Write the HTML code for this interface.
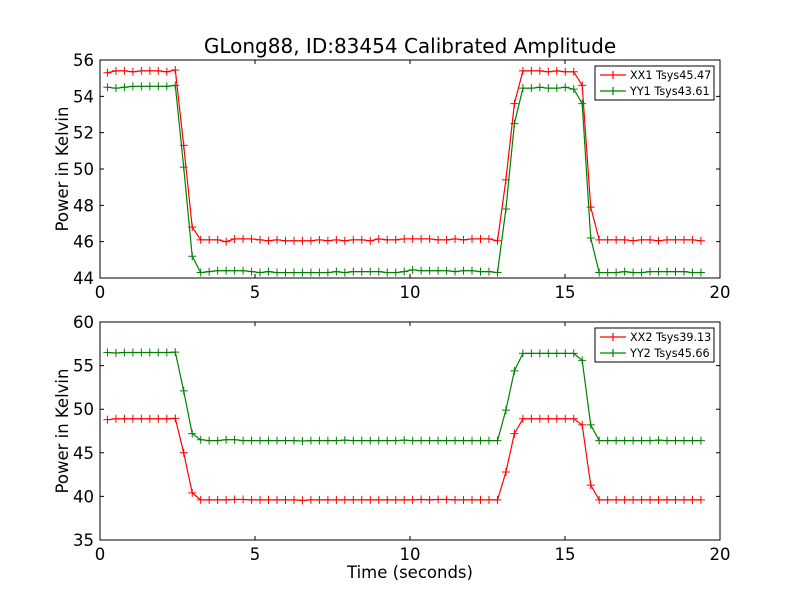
<!DOCTYPE html>
<html><head><meta charset="utf-8"><style>
body{margin:0;background:#fff;width:800px;height:600px;overflow:hidden}
svg text{font-family:"DejaVu Sans","Liberation Sans",sans-serif}
</style></head><body>
<svg id="chart" width="800" height="600" xmlns="http://www.w3.org/2000/svg">
<rect width="800" height="600" fill="#fff"/>
<text x="410" y="53" font-size="20" text-anchor="middle">GLong88, ID:83454 Calibrated Amplitude</text>
</svg>
<script>
const t0 = 0.24, dt = 0.2735, N = 71;
const xx1 = [55.3,55.4,55.4,55.35,55.4,55.4,55.4,55.35,55.45,51.3,46.8,
46.1,46.1,46.1,46.0,46.15,46.15,46.15,46.1,46.05,46.1,
46.05,46.05,46.05,46.05,46.1,46.05,46.1,46.05,46.1,46.1,
46.05,46.15,46.1,46.1,46.15,46.15,46.15,46.15,46.1,46.1,
46.15,46.1,46.15,46.15,46.15,46.05,
49.4,53.6,55.4,55.4,55.4,55.35,55.4,55.35,55.35,54.6,47.9,
46.1,46.1,46.1,46.1,46.05,46.1,46.1,46.05,46.1,46.1,46.1,46.1,46.05];
const yy1 = [54.5,54.45,54.5,54.55,54.55,54.55,54.55,54.55,54.6,50.1,45.2,
44.3,44.35,44.4,44.4,44.4,44.4,44.35,44.3,44.35,44.3,
44.3,44.3,44.3,44.3,44.3,44.3,44.35,44.3,44.35,44.35,
44.35,44.35,44.3,44.3,44.35,44.45,44.4,44.4,44.4,44.4,
44.35,44.4,44.4,44.35,44.35,44.3,
47.8,52.5,54.45,54.45,54.5,54.45,54.45,54.5,54.4,53.6,46.2,
44.3,44.3,44.3,44.35,44.3,44.3,44.35,44.35,44.35,44.35,44.35,44.3,44.3];
const xx2 = [48.8,48.9,48.9,48.9,48.9,48.9,48.9,48.9,48.95,45.0,40.4,
39.6,39.6,39.6,39.6,39.65,39.65,39.6,39.6,39.6,39.6,
39.6,39.6,39.55,39.6,39.6,39.6,39.6,39.6,39.6,39.6,
39.6,39.6,39.6,39.6,39.6,39.6,39.65,39.6,39.65,39.65,
39.6,39.6,39.6,39.6,39.6,39.6,
42.8,47.2,48.9,48.9,48.9,48.9,48.9,48.9,48.9,48.2,41.3,
39.6,39.6,39.6,39.6,39.6,39.6,39.6,39.6,39.6,39.6,39.6,39.6,39.6];
const yy2 = [56.5,56.45,56.5,56.5,56.5,56.5,56.5,56.5,56.55,52.1,47.2,
46.5,46.4,46.4,46.5,46.5,46.4,46.4,46.4,46.4,46.4,
46.4,46.4,46.35,46.4,46.4,46.4,46.4,46.45,46.4,46.4,
46.4,46.4,46.4,46.4,46.45,46.4,46.4,46.4,46.4,46.4,
46.4,46.4,46.4,46.4,46.4,46.4,
49.9,54.4,56.4,56.4,56.4,56.4,56.4,56.4,56.4,55.6,48.2,
46.4,46.4,46.4,46.4,46.4,46.4,46.4,46.45,46.4,46.4,46.4,46.4,46.4];
const xTicks = [0,5,10,15,20];
const yTicksTop = [44,46,48,50,52,54,56];
const yTicksBot = [35,40,45,50,55,60];
const legendTop = ["XX1 Tsys45.47","YY1 Tsys43.61"];
const legendBot = ["XX2 Tsys39.13","YY2 Tsys45.66"];

const NS = "http://www.w3.org/2000/svg";
const svg = document.getElementById('chart');
function mk(tag, attrs, parent){const e=document.createElementNS(NS,tag);for(const k in attrs)e.setAttribute(k,attrs[k]);(parent||svg).appendChild(e);return e;}

function panel(name, top, bottom, ymin, ymax, yTicks, series, legend, xlabel){
  const L=100,R=720;
  const g = mk('g',{});
  
  
  const sx = v => L + (v-0)/(20-0)*(R-L);
  const sy = v => bottom - (v-ymin)/(ymax-ymin)*(bottom-top);
  series.forEach(s=>{
    const pts = s.vals.map((v,i)=>sx(t0+i*dt).toFixed(1)+','+sy(v).toFixed(1)).join(' ');
    const line = mk('polyline',{points:pts,fill:'none',stroke:s.color,'stroke-width':1.2},g);
    
    
    s.vals.forEach((v,i)=>{
      const x=sx(t0+i*dt), y=sy(v);
      mk('path',{d:`M${x-4},${y}H${x+4}M${x},${y-4}V${y+4}`,stroke:s.color,'stroke-width':1},g);
    });
  });
  const frame = mk('rect',{x:L,y:top,width:R-L,height:bottom-top,fill:'none',stroke:'#000','stroke-width':1},g);
  
  
  xTicks.forEach(v=>{
    const x=sx(v);
    mk('path',{d:`M${x},${bottom}v-4M${x},${top}v4`,stroke:'#000'},g);
    const tx = mk('text',{x:x,y:bottom+20,'font-size':16.5,'text-anchor':'middle'},g);
    tx.textContent=v;
    
    
  });
  yTicks.forEach(v=>{
    const y=sy(v);
    mk('path',{d:`M${L},${y}h4M${R},${y}h-4`,stroke:'#000'},g);
    const ty = mk('text',{x:L-6,y:y+6,'font-size':16.5,'text-anchor':'end'},g);
    ty.textContent=v;
    
    
  });
  const yl = mk('text',{x:0,y:0,'font-size':16.5,'text-anchor':'middle',transform:`translate(68,${(top+bottom)/2}) rotate(-90)`},g);
  yl.textContent='Power in Kelvin';
  
  
  if(xlabel){
    const xl = mk('text',{x:410,y:bottom+38,'font-size':16.5,'text-anchor':'middle'},g);
    xl.textContent=xlabel;
    
    
  }
  const lg = mk('g',{},g);
  
  
  mk('rect',{x:595,y:top+6,width:119,height:34,fill:'#fff',stroke:'#000','stroke-width':1},lg);
  legend.forEach((lab,i)=>{
    const y=top+15+i*16, c=series[i].color;
    const e = mk('g',{},lg);
    
    
    mk('path',{d:`M600,${y}h26M613,${y-4}v8`,stroke:c,'stroke-width':1.2},e);
    const tt = mk('text',{x:630,y:y+4,'font-size':11.2},e);
    tt.textContent=lab;
  });
}
panel('top-panel',60,278,44,56,yTicksTop,[{name:'xx1',vals:xx1,color:'#ff0000'},{name:'yy1',vals:yy1,color:'#008000'}],legendTop,null);
panel('bottom-panel',322,540,35,60,yTicksBot,[{name:'xx2',vals:xx2,color:'#ff0000'},{name:'yy2',vals:yy2,color:'#008000'}],legendBot,'Time (seconds)');
</script>
</body></html>
